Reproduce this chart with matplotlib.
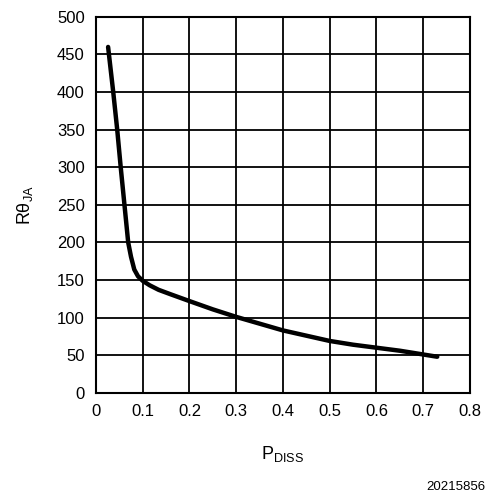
import matplotlib
matplotlib.use("Agg")
import matplotlib.pyplot as plt

# curve
p_diss = [0.026, 0.037, 0.0455, 0.053, 0.057, 0.061, 0.065, 0.069, 0.075,
          0.082, 0.09, 0.1, 0.115, 0.134, 0.16, 0.2, 0.25, 0.3, 0.35,
          0.4, 0.45, 0.5, 0.55, 0.6, 0.65, 0.7, 0.73]
r_theta = [460, 400, 350, 300, 275, 250, 225, 200, 181,
           164, 155, 149, 143, 137, 131, 122, 111, 101, 92,
           83, 76, 69, 64, 60, 56, 51, 48]

x_ticks = [0, 0.1, 0.2, 0.3, 0.4, 0.5, 0.6, 0.7, 0.8]
x_tick_labels = ["0", "0.1", "0.2", "0.3", "0.4", "0.5", "0.6", "0.7", "0.8"]
y_ticks = [0, 50, 100, 150, 200, 250, 300, 350, 400, 450, 500]

plt.rcParams['font.family'] = ['Liberation Sans', 'DejaVu Sans']

fig = plt.figure(figsize=(4.87, 4.96), dpi=100)
ax = fig.add_axes([0.197, 0.208, 0.768, 0.758])

ax.plot(p_diss, r_theta, color='black', linewidth=3.2,
        solid_capstyle='round', solid_joinstyle='round')

ax.set_xlim(0, 0.8)
ax.set_ylim(0, 500)
ax.set_xticks(x_ticks)
ax.set_xticklabels(x_tick_labels)
ax.set_yticks(y_ticks)
ax.grid(True, color='black', linewidth=1.3)
for s in ax.spines.values():
    s.set_linewidth(1.5)
ax.tick_params(length=0, labelsize=12, pad=8)

ax.set_xlabel(r'P$_{\mathregular{DISS}}$', fontsize=13, labelpad=18)
ax.set_ylabel(r'R$\mathregular{\theta}_{\mathregular{JA}}$', fontsize=13, labelpad=16)
fig.text(0.996, 0.006, '20215856', fontsize=9.5, ha='right', va='bottom')

fig.savefig('out.png', dpi=100)
